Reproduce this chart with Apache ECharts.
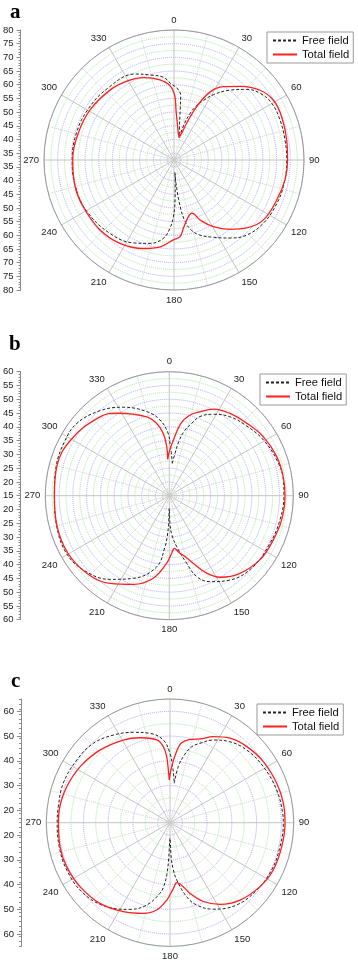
<!DOCTYPE html>
<html><head><meta charset="utf-8">
<script src="https://cdn.jsdelivr.net/npm/echarts@6/dist/echarts.min.js"></script>
<style>html,body{margin:0;padding:0;background:#fff}#c{width:358px;height:962px}</style>
</head><body><div id="c"></div>
<script>
// ---------- data (angle in degrees, value on radial scale) ----------
const angleTickValues = [0, 30, 60, 90, 120, 150, 180, 210, 240, 270, 300, 330];
const legendNames = ['Free field', 'Total field'];

// panel a
const aFreeAngle = [13,15.8,19,22,26,31,38.7,45.8,52.2,60,69.3,80,90,103.7,114.8,125.3,135.9,144.3,153,161,166,170,173,175,176,177,178.5,180.5,183.4,187.8,196,206,221,240,255,270,285,300,317,335.6,344.2,352.6,357.5,3,6,7,9,13];
const aFreeValue = [41,46,50.5,53.5,56.5,60.3,65.2,69.5,72.3,73.8,73.9,73.7,73.7,73.6,73.2,72.5,70.7,67.6,64.2,61.5,59,55,48,41,37,41,47,53,57.5,61.4,64.2,66.2,68.1,69.5,69.8,69.7,69.5,69,68.2,67,64.8,63,60.5,58.5,56,51,45.4,41];
const aTotalAngle = [12.5,16,19,23,28,34,42,51,59,68,80,90,100,111,124,133,141,149.5,156.5,161.5,165,168,172,175.5,180.5,189,199,213,227,243,255,270,286,301,318,330,339.5,350,357,0.9,2.3,4,6.3,9,12.5];
const aTotalValue = [41,42.7,46.7,53.7,60.7,64.8,68.7,73,74.9,74.9,74.3,74,73.7,72.8,71.8,68.9,65.1,60.8,56.4,53,53.6,54.9,57.5,60.6,61.7,64.6,66.7,68.8,69.7,69.8,69.9,69.5,68.8,68.2,67.1,66,64.6,62.2,59.6,55.6,50.8,47.5,44.7,42.5,41];

// panel b
const bFreeAngle = [5.3,7.7,10,13,17,21.2,28.4,37.5,48,59.4,71.6,82.2,90,102.4,115.3,130.2,144.3,154.7,161.3,165.6,171.7,176,178.5,180,181.5,183,184.8,190,203.5,215.3,229.2,241,255,270,284.4,297.7,308,320.8,332.5,345,353,359,1,3,5.3];
const bFreeValue = [26.8,30.5,35,39,42.3,45.8,48.6,51.1,52.8,54.7,56.1,56.8,56.6,56.1,55.4,54.9,52.7,49.5,46,40.3,33.7,29.5,25.5,19.6,25.5,30,33.6,41.2,47.7,52.2,56.2,57.8,57.3,56.7,57.4,57.8,57.6,54.8,51.2,46.6,42.7,37.6,33.4,30,26.8];
const bTotalAngle = [357.5,0,4,9,14,20,27,36.4,47,58,70,80.5,90,102,113,125,137.7,148,154.3,160.5,165,170,174.6,177.6,182.2,191,202,214,227,240.7,255,270,285,300,318.7,328.2,344,350,354.5,357,357.5];
const bTotalValue = [28.2,31,35,41.5,45,47.4,50.3,52.1,53.5,55.3,56.5,56.9,57,56.7,56,55.3,53.1,49.9,46.2,41,38,36,34.2,35.9,39.5,45.5,49.7,53.4,56.1,57.3,57.2,56.7,57.2,56,53.1,50.2,44.8,41.7,37.7,32.8,28.2];

// panel c
const cFreeAngle = [6.2,8.4,12,15.9,20.7,27.6,36.5,46.5,59,73,85,90,102.3,115,127.8,141,153.4,162,167.3,173.3,176,178,180,182,183.5,185.7,188.1,195.8,204.8,217,230.8,245.4,257.8,270,278.2,290.3,304,316,327,338,347.4,355.4,0,3,6.2];
const cFreeValue = [31,37.9,43,46.9,49.3,52.7,55.7,57.7,59,60.1,60.7,60.8,60.5,60.3,59.4,57.8,54.1,50,45.7,38.3,34,29,21.3,29,36,41,43.8,49.6,53.6,57.5,60.2,60.9,60.8,60.6,60.6,61,60.4,59.6,57.2,54.4,52,48.5,43,37,31];
const cTotalAngle = [359,1.7,5.3,8.1,13,19.9,26.7,35.4,45.3,56.8,69.7,80.3,90,102,114.6,125.4,137.8,148.5,157,164.2,168.3,173.6,177,182.4,188.7,196.4,207.7,221,234.6,247,257.7,270,278.3,289.2,302,316,330.5,340.6,351,355,357.1,358.2,359];
const cTotalValue = [32.3,37.6,44,47.5,49.5,51,53.9,56.9,58.7,60.1,61,61.5,61.5,61.2,60.9,59.6,57.2,53.7,49.6,44.7,41.4,39.4,41.6,46.3,50.7,53.2,55.6,58.2,59.6,60.4,60.5,60.1,60,59.2,57.8,55.8,53.4,51.4,48.9,45.8,41.7,36.3,32.3];

// radial scales and left-axis tick labels
const aScale = {min: 32.5, max: 80, step: 2.5, labelFrom: 35, labelStep: 5, minorStep: 1};
const bScale = {min: 15, max: 60, step: 2.5, labelFrom: 15, labelStep: 5, minorStep: 1};
const cScale = {min: 15, max: 65, step: 5, labelFrom: 20, labelStep: 10, minorStep: 2};

// ---------- layout & style ----------
const BLUE = '#a9a9f5', GREEN = '#a6e8a6';
const panels = [
  {letter: 'a', scale: aScale, free: [aFreeAngle, aFreeValue], total: [aTotalAngle, aTotalValue],
   center: [174, 160], radius: 130, ringColors: [GREEN, BLUE], legend: {left: 267, top: 32}, letterPos: {left: 5, top: -3}, axisLeft: 20},
  {letter: 'b', scale: bScale, free: [bFreeAngle, bFreeValue], total: [bTotalAngle, bTotalValue],
   center: [169.3, 495.7], radius: 124, ringColors: [BLUE, GREEN], legend: {left: 260, top: 374}, letterPos: {left: 4, top: 329}, axisLeft: 19.5},
  {letter: 'c', scale: cScale, free: [cFreeAngle, cFreeValue], total: [cTotalAngle, cTotalValue],
   center: [170, 822.7], radius: 123.7, ringColors: [GREEN, BLUE], legend: {left: 257, top: 704}, letterPos: {left: 6, top: 666}, axisLeft: 21}
];

const FONT = 'Liberation Sans';
const option = {animation: false, backgroundColor: '#fff', title: [], legend: [], polar: [], angleAxis: [], radiusAxis: [], grid: [], xAxis: [], yAxis: [], series: []};

function pairs(angles, values) { return angles.map((a, i) => [values[i], a]); }

panels.forEach((p, i) => {
  const s = p.scale;
  const span = s.max - s.min;
  option.title.push({text: p.letter, left: p.letterPos.left, top: p.letterPos.top,
    textStyle: {fontFamily: 'Liberation Serif', fontWeight: 'bold', fontSize: 21, color: '#000'}});
  option.legend.push({orient: 'vertical', left: p.legend.left, top: p.legend.top, data: legendNames,
    itemWidth: 24, itemHeight: 10, itemGap: 3, padding: [3, 4, 3, 5], borderColor: '#999', borderWidth: 1,
    itemStyle: {color: 'rgba(0,0,0,0)', borderWidth: 0, opacity: 0},
    backgroundColor: '#fff', textStyle: {fontFamily: FONT, fontSize: 11.2, color: '#111'}});
  option.polar.push({center: p.center, radius: p.radius});
  option.angleAxis.push({polarIndex: i, type: 'value', min: 0, max: 360, interval: 30, startAngle: 90, clockwise: true,
    axisLine: {lineStyle: {color: '#9a9a9a', width: 1}}, axisTick: {show: false},
    minorTick: {show: false, splitNumber: 2},
    minorSplitLine: {show: true, lineStyle: {color: '#d0d0d0', type: 'dotted', width: 1}},
    axisLabel: {margin: 5, fontFamily: FONT, fontSize: 9.5, color: '#222',
      formatter: v => angleTickValues.includes(v) ? String(v) : ''},
    splitLine: {lineStyle: {color: '#c4c4c4', width: 1}}});
  option.radiusAxis.push({polarIndex: i, type: 'value', min: s.min, max: s.max, interval: s.step,
    axisLine: {show: false}, axisTick: {show: false}, axisLabel: {show: false},
    splitLine: {show: true, lineStyle: {color: p.ringColors, type: 'dotted', width: 1}}});

  // left linear scale (mirrored)
  const labelVals = [], minorVals = [];
  for (let L = s.labelFrom; L <= s.max + 1e-9; L += s.labelStep) {
    const d = +(L - s.min).toFixed(3);
    labelVals.push(d); if (d !== 0) labelVals.push(-d);
  }
  for (let L = Math.ceil(s.min); L <= s.max + 1e-9; L += s.minorStep) {
    const d = +(L - s.min).toFixed(3);
    minorVals.push(d); if (d !== 0) minorVals.push(-d);
  }
  option.grid.push({left: p.axisLeft, top: p.center[1] - p.radius, height: 2 * p.radius, width: 2, show: false});
  option.xAxis.push({gridIndex: i, type: 'value', show: false, min: 0, max: 1});
  option.yAxis.push({gridIndex: i, type: 'value', min: -span, max: span, position: 'left',
    axisLine: {show: true, lineStyle: {color: '#8a8a8a'}},
    axisTick: {show: true, length: 4, customValues: labelVals, lineStyle: {color: '#8a8a8a'}},
    axisLabel: {customValues: labelVals, margin: 7, fontFamily: FONT, fontSize: 9.5, color: '#222',
      formatter: v => String(+(Math.abs(v) + s.min).toFixed(1))},
    splitLine: {show: false}});
  option.yAxis.push({gridIndex: i, type: 'value', min: -span, max: span, position: 'left',
    axisLine: {show: false}, axisLabel: {show: false},
    axisTick: {show: true, length: 2, customValues: minorVals, lineStyle: {color: '#8a8a8a'}},
    splitLine: {show: false}});

  option.series.push({type: 'line', name: 'Free field', coordinateSystem: 'polar', polarIndex: i,
    data: pairs(p.free[0], p.free[1]), symbol: 'none', smooth: 0.4, clip: false,
    lineStyle: {color: '#222', width: 1, type: [3, 2]}, itemStyle: {color: '#222'}});
  option.series.push({type: 'line', name: 'Total field', coordinateSystem: 'polar', polarIndex: i,
    data: pairs(p.total[0], p.total[1]), symbol: 'none', smooth: 0.4, clip: false,
    lineStyle: {color: '#ff1f1f', width: 1.3}, itemStyle: {color: '#ff1f1f'}});
});

const chart = echarts.init(document.getElementById('c'), null, {renderer: 'canvas'});
chart.setOption(option);
</script>
</body></html>
